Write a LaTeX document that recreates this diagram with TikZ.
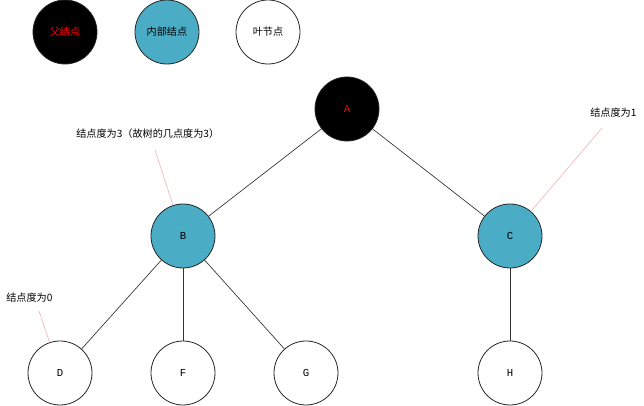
\documentclass[tikz,border=0pt]{standalone}
\usepackage{fontspec}
\newfontfamily\cjk{Noto Sans CJK SC}
\newfontfamily\monof{Liberation Mono}
\definecolor{teal1}{RGB}{75,172,198}
\definecolor{pinkline}{RGB}{236,185,185}
\tikzset{
  tnode/.style={circle,draw=black!85,line width=0.6pt,minimum size=48pt,inner sep=0pt,font=\monof\fontsize{8}{9}\selectfont},
  parentn/.style={tnode,fill=black,text=red},
  innern/.style={tnode,fill=teal1},
  leafn/.style={tnode,fill=white},
  legendtext/.style={font=\cjk\fontsize{7.6}{9}\selectfont},
  edge/.style={draw=black!80,line width=0.5pt},
  note/.style={font=\cjk\fontsize{7.6}{9}\selectfont,inner sep=0pt,anchor=west},
  noteline/.style={draw=pinkline,line width=0.5pt}
}
\begin{document}
\begin{tikzpicture}[x=0.75pt,y=-0.75pt]
\useasboundingbox (0,0) rectangle (644,406);
% legend
\node[parentn,legendtext] (l1) at (65,32) {父结点};
\node[innern,legendtext] (l2) at (167,32) {内部结点};
\node[leafn,legendtext] (l3) at (268,32) {叶节点};
% tree
\node[parentn] (A) at (347,109) {A};
\node[innern] (B) at (183,236) {B};
\node[innern] (C) at (510,236) {C};
\node[leafn] (D) at (60,373) {D};
\node[leafn] (F) at (183,373) {F};
\node[leafn] (G) at (306,373) {G};
\node[leafn] (H) at (510,373) {H};
\draw[edge] (A) -- (B);
\draw[edge] (A) -- (C);
\draw[edge] (B) -- (D);
\draw[edge] (B) -- (F);
\draw[edge] (B) -- (G);
\draw[edge] (C) -- (H);
% notes
\node[note] (n3) at (76,134) {结点度为3（故树的几点度为3）};
\node[note] (n1) at (590,113) {结点度为1};
\node[note] (n0) at (6,298) {结点度为0};
\coordinate (n3a) at (155,150);
\coordinate (n1a) at (602,128);
\coordinate (n0a) at (39,311);
\draw[noteline] (n3a) -- (B);
\draw[noteline] (n1a) -- (C);
\draw[noteline] (n0a) -- (D);
\end{tikzpicture}
\end{document}
